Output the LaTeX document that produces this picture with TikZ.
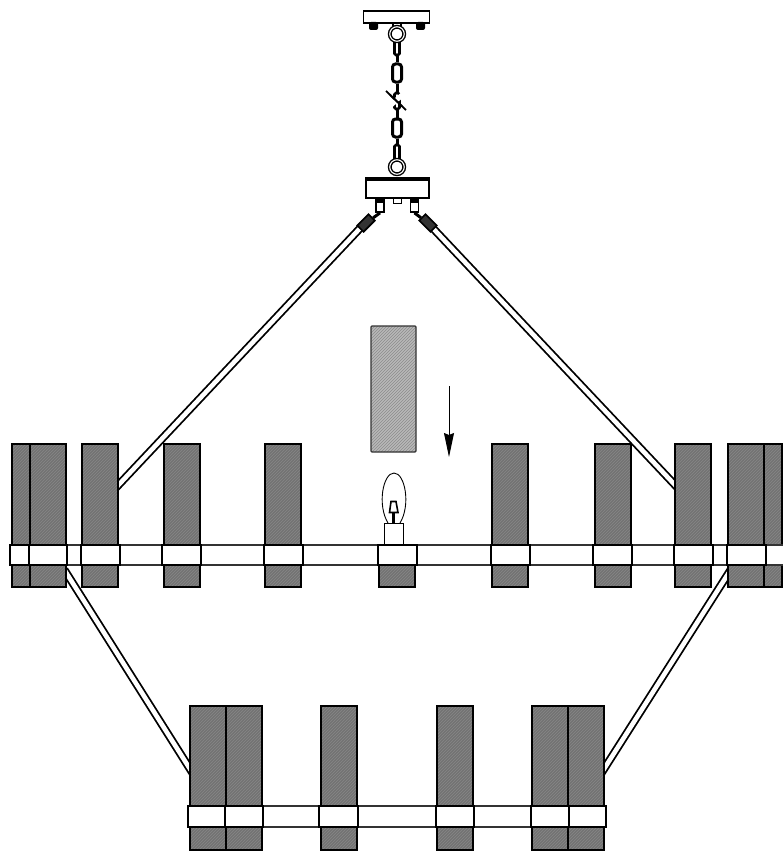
\documentclass[tikz,border=0pt]{standalone}
\usetikzlibrary{arrows.meta,patterns,positioning}

\begin{document}
\begin{tikzpicture}[x=1pt,y=-1pt]
  \tikzstyle{block}=[draw,line width=1.8pt,inner sep=0,minimum width=36pt,preaction={fill=black!55},pattern=north east lines,pattern color=black!47]
  \tikzstyle{collar}=[draw,line width=2pt,fill=white,inner sep=0,minimum height=20pt]
  \tikzstyle{band}=[draw=black!80,line width=1.5pt,fill=white,inner sep=0,minimum height=20pt]
  \tikzstyle{rod}=[double=white,double distance=4.6pt,line width=1.8pt,shorten >=-5pt]
  \tikzstyle{plate}=[draw,line width=1.8pt,fill=white,inner sep=0]
  \tikzstyle{link}=[draw,line width=2.6pt,fill=white,rounded corners=1.5,inner sep=0,minimum width=5pt,minimum height=16pt]
  \tikzstyle{widelink}=[link,rounded corners=3,line width=3pt,minimum width=9pt,minimum height=18pt]
  \tikzstyle{eye}=[draw,circle,line width=1.4pt,double=white,double distance=1.1pt,fill=white,inner sep=0,minimum size=14.5pt]
  \tikzstyle{stem}=[line width=3pt]
  \tikzstyle{sleeve}=[draw,line width=1.6pt,fill=black!80,inner sep=0,minimum width=16pt,minimum height=9pt]
  \tikzstyle{bracket}=[draw,line width=1.8pt,fill=white,inner sep=0,minimum width=8pt,minimum height=14pt]
  \useasboundingbox (0,0) rectangle (782,851);

  % rods, blocks go over their ends
  \coordinate (lugUL) at (118,485.5);
  \coordinate (lugUR) at (675,485);
  \coordinate (lugML) at (190,769);
  \coordinate (lugMR) at (604,769);
  \coordinate (lugLL) at (67,574);
  \coordinate (lugLR) at (728,574);
  \coordinate (hookL) at (365,223);
  \coordinate (hookR) at (428,223);
  \draw [rod] (hookL)--(lugUL);
  \draw [rod] (hookR)--(lugUR);
  \draw [rod,shorten <=-5pt] (lugLL)--(lugML);
  \draw [rod,shorten <=-5pt] (lugLR)--(lugMR);

  % chain
  \node [plate,minimum width=66pt,minimum height=12pt] (canopy) at (396.5,17) {};
  \fill [rounded corners=2] (369,22) rectangle (378,30);
  \fill [rounded corners=2] (416,22) rectangle (425,30);
  \node [plate,minimum width=8pt,minimum height=5pt] (stemtop) at (397,25.5) {};
  \node [link] (link1) at (397,47) {};
  \node [eye] (ringtop) at (397,34) {};
  \node [widelink] (link2) at (397,73) {};
  \node [link] (link3) at (397,101) {};
  \node [widelink] (link4) at (397,128) {};
  \node [link] (link5) at (397,153) {};
  \draw [stem] (link1)--(link2);
  \draw [stem] (link2)--(link3);
  \draw [stem] (link3)--(link4);
  \draw [stem] (link4)--(link5);
  \fill [white,rotate around={42:(396,100.5)}] (383,98) rectangle (409,103);
  \draw [line width=1.8pt] (386,91)--(402,106);
  \draw [line width=1.8pt] (390,95)--(406,110);
  \node [eye] (ringlow) at (397,167) {};

  % lower plate
  \node [plate,minimum width=63pt,minimum height=18pt] (mount) at (397.5,189) {};
  \draw [line width=3.4pt] (mount.north west)--(mount.north east);
  \node [plate,line width=1pt,minimum width=8pt,minimum height=5pt] (tab) at (397,200.5) {};
  \node [bracket] (bracketL) at (380,205) {};
  \node [bracket] (bracketR) at (414.5,205) {};
  \fill (376,198) rectangle (384,203);
  \fill (411,198) rectangle (419,203);
  \node [sleeve,rotate=45] (sleeveL) at (366,223) {};
  \node [sleeve,rotate=-45] (sleeveR) at (428,223) {};
  \draw [line width=3pt] (bracketL.south)--(sleeveL);
  \draw [line width=3pt] (bracketR.south)--(sleeveR);

  % upper ring
  \node [band,minimum width=772pt] (ringU) at (396,555) {};
  \foreach \name/\cx in {a/30,b/48,c/100,d/182,e/283,g/510,h/613,i/693,j/746}
    \node [block,minimum height=143pt] (up\name) at (\cx,515.5) {};
  \node [block,minimum width=18pt,minimum height=143pt] (upk) at (773,515.5) {};
  \node [block,minimum height=22pt] (upf) at (397,576) {};
  \node [band,minimum width=20pt] (colUk) at (775,555) {};
  \foreach \name/\cx/\cw in {a/19.5/19,b/48/38,c/100.5/39,d/181.5/39,e/283.5/39,f/397.5/39,g/510.5/39,h/612.5/39,i/693.5/39,j/746.5/39}
    \node [collar,minimum width=\cw pt] (colU\name) at (\cx,555) {};

  % lower ring
  \node [band,minimum width=417pt,minimum height=21pt] (ringL) at (397.5,816.5) {};
  \foreach \name/\cx in {a/208,b/244,c/339,d/455,e/550,f/586}
    \node [block,minimum height=144pt] (low\name) at (\cx,778) {};
  \foreach \name/\cx/\cw in {a/206.5/37,b/244/38,c/338.5/39,d/455/38,e/550/38,f/587.5/37}
    \node [collar,minimum width=\cw pt,minimum height=21pt] (colL\name) at (\cx,816.5) {};

  % hatched part and arrow
  \node [draw=black!80,line width=1.2pt,rounded corners=1,inner sep=0,minimum width=45pt,minimum height=126pt,preaction={fill=black!28},pattern=north east lines,pattern color=black!45] (shade) at (393.5,389) {};
  \coordinate (arrowtop) at (449,386);
  \coordinate (arrowend) at (449,457);
  \draw [-{Stealth[length=24pt,width=10pt,inset=2pt]},line width=0.9pt] (arrowtop)--(arrowend);

  % lamp
  \node [draw,line width=0.9pt,fill=white,inner sep=0,minimum width=19pt,minimum height=21pt] (socket) at (393.5,533.5) {};
  \draw [line width=0.9pt] (388,523) .. controls (377,505) and (383,473) .. (394,473) .. controls (405,473) and (411,505) .. (400,523);
  \draw [line width=2.4pt] (393.5,523)--(393.5,512);
  \draw [line width=1.6pt,fill=white] (391,501.5)--(396,501.5)--(398,512.5)--(389.5,512.5)--cycle;
\end{tikzpicture}
\end{document}
